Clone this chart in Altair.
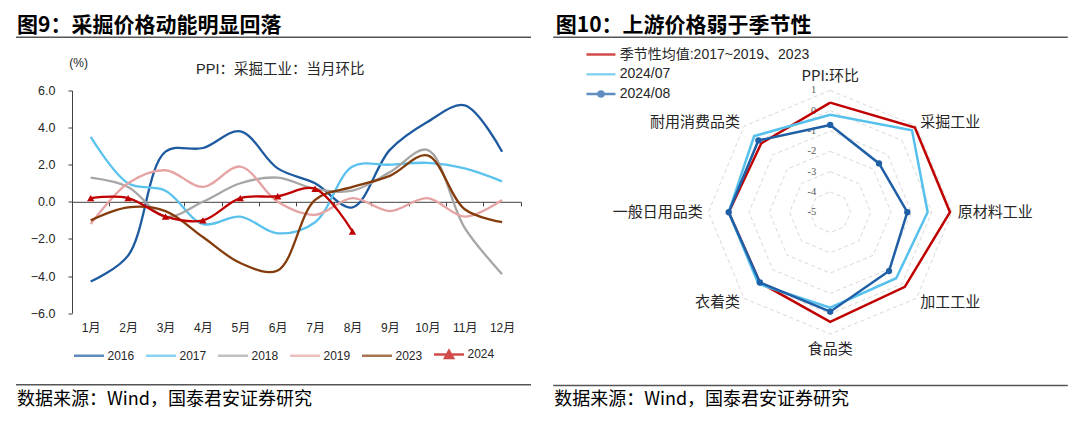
import altair as alt
import pandas as pd

# ---------------- data: left chart ----------------
months = ["1月", "2月", "3月", "4月", "5月", "6月", "7月", "8月", "9月", "10月", "11月", "12月"]
series_left = ["2016", "2017", "2018", "2019", "2023", "2024"]
v2016 = [-4.3, -2.9, 2.7, 2.9, 3.8, 1.8, 1.0, -0.3, 2.8, 4.3, 5.2, 2.7]
v2017 = [3.5, 1.0, 0.6, -1.2, -0.8, -1.7, -1.1, 1.9, 2.0, 2.1, 1.8, 1.1]
v2018 = [1.3, 0.8, -0.8, 0.0, 1.0, 1.3, 0.7, 0.6, 1.6, 2.8, -1.4, -3.9]
v2019 = [-1.2, 1.0, 1.7, 0.8, 1.9, 0.0, -0.7, 0.2, -0.5, 0.2, -0.8, 0.1]
v2023 = [-1.0, -0.3, -0.5, -1.9, -3.3, -3.7, 0.1, 0.8, 1.4, 2.5, -0.4, -1.1]
v2024 = [0.2, 0.2, -0.8, -1.0, 0.2, 0.3, 0.7, -1.6]
y_ticks = [-6, -4, -2, 0, 2, 4, 6]

# ---------------- data: radar chart ----------------
cats = ["PPI:环比", "采掘工业", "原材料工业", "加工工业", "食品类", "衣着类", "一般日用品类", "耐用消费品类"]
series_right = ["季节性均值:2017~2019、2023", "2024/07", "2024/08"]
seasonal = [0.4, 0.9, 0.9, 0.2, 0.4, -0.1, 0.0, -0.2]
jul2024 = [-0.2, 0.7, -0.2, -0.4, -0.3, 0.0, 0.0, 0.3]
aug2024 = [-0.7, -1.6, -1.2, -0.9, -0.1, -0.1, 0.0, 0.0]
ring_levels = [1, 0, -1, -2, -3, -4]
tick_levels = [1, 0, -1, -2, -3, -4, -5]
R_MIN = -5

# ---------------- styles ----------------
colors_left = ["#1D5AA0", "#5BC2EE", "#A6A6A6", "#E6A3A3", "#843C0C", "#C00000"]
colors_right = ["#C00000", "#56C1EC", "#1F5FA6"]
AX = "#404040"
CJK = "Noto Sans CJK SC"
LAT = "Liberation Sans, Noto Sans CJK SC"
SERIF = "Liberation Serif"

LW, LH = 448.8, 222.6
K = 20.3            # px per radar unit
RH = 121.7          # half size of radar plot
RW = 2 * RH
HALF = RH / K


def text_layer(txt, x, y, size, font=CJK, weight="normal", align="left", color="#000000"):
    return alt.Chart(pd.DataFrame({"t": [txt]})).mark_text(
        align=align, baseline="middle", fontSize=size, font=font,
        fontWeight=weight, color=color
    ).encode(x=alt.value(x), y=alt.value(y), text="t:N")


def hrule(x1, x2, y, color="#555555", width=1.4):
    return alt.Chart(pd.DataFrame({"t": [0]})).mark_rule(
        color=color, strokeWidth=width
    ).encode(x=alt.value(x1), x2=alt.value(x2), y=alt.value(y))


# ---------------- left chart ----------------
rows = []
for s, vals in zip(series_left, [v2016, v2017, v2018, v2019, v2023, v2024]):
    for i, v in enumerate(vals):
        rows.append({"series": s, "month": months[i], "mi": i, "value": v})
df_left = pd.DataFrame(rows)

x_enc = alt.X(
    "month:O", sort=months, bandPosition=0.5,
    scale=alt.Scale(type="band", domain=months, paddingInner=0, paddingOuter=0),
    axis=alt.Axis(title=None, orient="bottom", offset=-LH / 2, tickBand="extent",
                  tickSize=4, domainColor=AX, tickColor=AX, labelPadding=117,
                  labelFont=LAT, labelFontSize=12, labelColor="#262626",
                  labelAngle=0, grid=False)
)
y_enc = alt.Y(
    "value:Q", scale=alt.Scale(domain=[-6, 6], nice=False, zero=False),
    axis=alt.Axis(title=None, values=y_ticks, format=".1f", tickSize=4,
                  labelPadding=13, domainColor=AX, tickColor=AX, grid=False,
                  labelFont=LAT, labelFontSize=12.5, labelColor="#262626")
)

tri_path = ("M-0.27,0.24L0,-0.24L0.27,0.24Z"
            "M-0.15,0.15L0,-0.1L0.15,0.15Z")
left_shapes = ["M-1,0L1,0"] * 5 + ["M-1,0L1,0" + tri_path]
leg_left = alt.Legend(title=None, orient="none", legendX=0.5, legendY=247,
                      direction="horizontal", symbolSize=900, symbolStrokeWidth=2.5,
                      symbolFillColor="#C00000",
                      labelFont=LAT, labelFontSize=12, labelColor="#262626",
                      labelOffset=2, columnPadding=6, padding=0)

base_left = alt.Chart(df_left)
lines_left = base_left.mark_line(interpolate="catmull-rom", strokeWidth=2.3).encode(
    x=x_enc, y=y_enc,
    color=alt.Color("series:N", scale=alt.Scale(domain=series_left, range=colors_left), legend=leg_left),
    order="mi:Q",
)
legend_pts_left = base_left.transform_filter("false").mark_point(filled=False, strokeWidth=2.5).encode(
    x=x_enc, y=y_enc,
    color=alt.Color("series:N", scale=alt.Scale(domain=series_left, range=colors_left), legend=leg_left),
    shape=alt.Shape("series:N", scale=alt.Scale(domain=series_left, range=left_shapes), legend=leg_left),
)
tri_left = base_left.transform_filter(alt.datum.series == "2024").mark_point(
    shape="triangle-up", filled=True, size=55, color="#C00000", opacity=1
).encode(x=x_enc, y=y_enc)

left = alt.layer(
    lines_left, legend_pts_left, tri_left,
    text_layer("图9：采掘价格动能明显回落", -55, -65, 21, weight="bold"),
    hrule(-56, 459, -53.3),
    text_layer("(%)", 6.7, -27.7, 12, font=LAT, align="center", color="#262626"),
    text_layer("PPI：采掘工业：当月环比", 208.3, -21, 14.5, font=LAT, align="center", color="#262626"),
    hrule(-56, 459, 294.3),
    text_layer("数据来源：Wind，国泰君安证券研究", -55, 309.3, 18),
).properties(width=LW, height=LH)

# ---------------- right chart (radar) ----------------
rrows = []
for s, vals in zip(series_right, [seasonal, jul2024, aug2024]):
    for ci in range(len(cats) + 1):
        rrows.append({"series": s, "ci": ci, "cat": cats[ci % len(cats)], "value": vals[ci % len(cats)]})
df_radar = pd.DataFrame(rrows)

grows = []
for lv in ring_levels:
    for ci in range(len(cats) + 1):
        grows.append({"level": lv, "ci": ci})
df_rings = pd.DataFrame(grows)
df_ticks = pd.DataFrame({"level": tick_levels, "lab": [str(v) for v in tick_levels]})
df_cats = pd.DataFrame({"cat": cats, "ci": list(range(len(cats)))})

sx = alt.Scale(domain=[-HALF, HALF], nice=False, zero=False)
sy = alt.Scale(domain=[-HALF, HALF], nice=False, zero=False)
n = len(cats)
theta = f"2 * PI * datum.ci / {n}"

rings = alt.Chart(df_rings).transform_calculate(
    rr=f"datum.level - ({R_MIN})"
).transform_calculate(
    px=f"datum.rr * sin({theta})", py=f"datum.rr * cos({theta})"
).mark_line(color="#D9D9D9", strokeWidth=1, strokeDash=[4, 3]).encode(
    x=alt.X("px:Q", scale=sx, axis=None), y=alt.Y("py:Q", scale=sy, axis=None),
    detail="level:N", order="ci:Q",
)

ticks = alt.Chart(df_ticks).transform_calculate(
    px="0", py=f"datum.level - ({R_MIN})"
).mark_text(align="right", baseline="middle", dx=-14, fontSize=10.5, font=SERIF, color="#595959").encode(
    x=alt.X("px:Q", scale=sx, axis=None), y=alt.Y("py:Q", scale=sy, axis=None), text="lab:N"
)

# legend symbols: drawn 29px wide while the layout box stays 14.5px (compact rows)
right_shapes = ["M-3,0L1,0", "M-3,0L1,0",
                "M-3,0L1,0M-0.655,0A0.345,0.345,0,1,1,-1.345,0A0.345,0.345,0,1,1,-0.655,0Z"]
leg_right = alt.Legend(title=None, orient="none", legendX=-108.8, legendY=-44.5,
                       direction="vertical", symbolSize=210, symbolStrokeWidth=2.5,
                       symbolFillColor="#1F5FA6", labelLimit=400,
                       labelFont=LAT, labelFontSize=14, labelColor="#262626",
                       labelOffset=3, rowPadding=3.8, padding=0)

radar_base = alt.Chart(df_radar).transform_calculate(
    rr=f"datum.value - ({R_MIN})"
).transform_calculate(
    px=f"datum.rr * sin({theta})", py=f"datum.rr * cos({theta})"
)
rx = alt.X("px:Q", scale=sx, axis=None)
ry = alt.Y("py:Q", scale=sy, axis=None)
radar_lines = radar_base.mark_line(strokeWidth=2.5).encode(
    x=rx, y=ry,
    color=alt.Color("series:N", scale=alt.Scale(domain=series_right, range=colors_right), legend=leg_right),
    order="ci:Q",
)
radar_legend_pts = radar_base.transform_filter("false").mark_point(filled=False, strokeWidth=2.5).encode(
    x=rx, y=ry,
    color=alt.Color("series:N", scale=alt.Scale(domain=series_right, range=colors_right), legend=leg_right),
    shape=alt.Shape("series:N", scale=alt.Scale(domain=series_right, range=right_shapes), legend=leg_right),
)
radar_dots = radar_base.transform_filter(
    (alt.datum.series == "2024/08") & (alt.datum.ci < n)
).mark_circle(size=40, color="#1F5FA6", opacity=1).encode(x=rx, y=ry)

cat_base = alt.Chart(df_cats).transform_calculate(
    s=f"sin({theta})", c=f"cos({theta})"
).transform_calculate(
    lr="abs(datum.s) < 0.01 ? 6.73 : 6.28"
).transform_calculate(
    px="datum.lr * datum.s", py="datum.lr * datum.c"
)
cat_style = dict(baseline="middle", fontSize=15, font=CJK, color="#262626")
cat_right = cat_base.transform_filter("datum.s > 0.01").mark_text(align="left", **cat_style).encode(
    x=rx, y=ry, text="cat:N")
cat_left = cat_base.transform_filter("datum.s < -0.01").mark_text(align="right", **cat_style).encode(
    x=rx, y=ry, text="cat:N")
cat_mid = cat_base.transform_filter("abs(datum.s) <= 0.01").mark_text(align="center", **cat_style).encode(
    x=rx, y=ry, text="cat:N")

right = alt.layer(
    rings, ticks, radar_lines, radar_legend_pts, radar_dots, cat_right, cat_left, cat_mid,
    text_layer("图10：上游价格弱于季节性", -152.7, -65, 21, weight="bold"),
    hrule(-155.3, 359.3, -53.3),
    hrule(-155.3, 359.3, 295),
    text_layer("数据来源：Wind，国泰君安证券研究", -154.3, 309.3, 18),
).properties(width=RW, height=RW)

chart = alt.hconcat(left, right, spacing=187.5, bounds="flush").resolve_scale(
    color="independent", shape="independent"
).properties(
    padding={"left": 7, "top": 6.5, "right": 0, "bottom": 0},
    background="white",
).configure_view(strokeWidth=0)

chart.save("out.html", embed_options={"renderer": "svg", "actions": False})
